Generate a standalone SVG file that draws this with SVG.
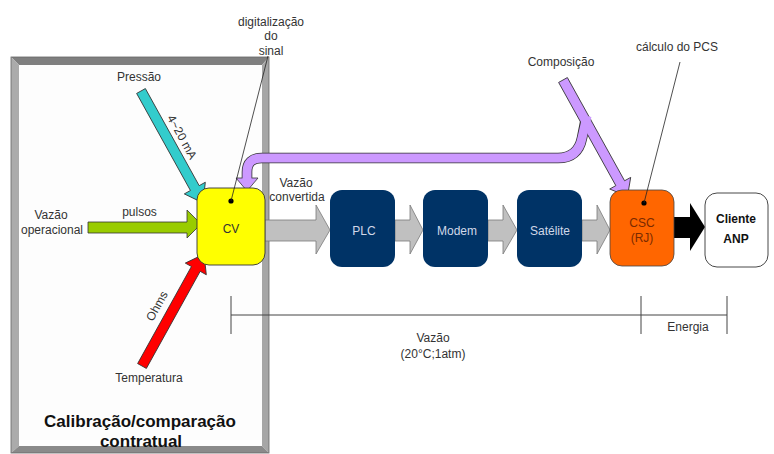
<svg xmlns="http://www.w3.org/2000/svg" width="774" height="454" viewBox="0 0 774 454">
<defs>
<style>
text{font-family:"Liberation Sans",Arial,sans-serif;font-size:12px;fill:#333;}
.c{text-anchor:middle;}
.navy{fill:#003366;}
.bt{fill:#d0d8e8;text-anchor:middle;}
.garrow{fill:#c0c0c0;stroke:#7a7a7a;stroke-width:0.8;}
.out{stroke:#333;stroke-width:0.8;}
.dim{stroke:#444;stroke-width:1;fill:none;}
.lead{stroke:#222;stroke-width:0.8;fill:none;}
</style>
</defs>
<rect width="774" height="454" fill="#ffffff"/>

<g id="frame">
<polygon points="11,57 269,57 262,65 19,65" fill="#7f7f7f"/>
<polygon points="11,57 19,65 19,446 11,453" fill="#ababab"/>
<polygon points="269,57 269,453 262,446 262,65" fill="#a6a6a6"/>
<polygon points="11,453 19,446 262,446 269,453" fill="#8a8a8a"/>
<rect x="19" y="65" width="243" height="381" fill="#fdfdfd"/>
<rect x="11" y="57" width="258" height="396" fill="none" stroke="#666" stroke-width="0.8"/>
<text x="140" y="427" style="font-size:17px;font-weight:bold;fill:#111" class="c">Calibração/comparação</text>
<text x="141" y="447" style="font-size:17px;font-weight:bold;fill:#111" class="c">contratual</text>
</g>

<g id="dimension">
<path class="dim" d="M231,315 H727 M231,296 V334 M641,296 V334 M727,296 V334"/>
<text x="433" y="342" class="c">Vazão</text>
<text x="433" y="358" class="c">(20°C;1atm)</text>
<text x="688" y="331" class="c">Energia</text>
</g>

<g id="connectors">
<path class="garrow" d="M265,220 H316 V205 L330,230 L316,254 V241 H265 Z"/>
<path class="garrow" d="M395,220 H410 V205 L423,230 L410,254 V241 H395 Z"/>
<path class="garrow" d="M488,220 H503 V205 L517,230 L503,254 V241 H488 Z"/>
<path class="garrow" d="M582,220 H597 V205 L610,230 L597,254 V241 H582 Z"/>
<path d="M674,217 H690 V203 L705,227 L690,251 V238 H674 Z" fill="#000"/>
<path class="out" fill="#99cc00" d="M88,222 H187 V210 L201,224 L187,238 V233 H88 Z"/>
<path class="out" fill="#33cccc" transform="translate(141,91) rotate(61)" d="M0,-5 H111 V-12 L128,0 L111,12 V5 H0 Z"/>
<path class="out" fill="#ff0000" transform="translate(142,366) rotate(-61)" d="M0,-5 H111 V-12 L128,0 L111,12 V5 H0 Z"/>
<path d="M586,118 L582,138 Q578,158 558,158 L262,158 Q247,158 247,172 L247,178" fill="none" stroke="#333" stroke-width="10.6"/>
<path class="out" fill="#cc99ff" transform="translate(563,80) rotate(61)" d="M0,-5 H118 V-12 L133,0 L118,12 V5 H0 Z"/>
<polygon class="out" fill="#cc99ff" points="236,178 258,178 247,191"/>
<path d="M587,116 L582,138 Q578,158 558,158 L262,158 Q247,158 247,172 L247,179.5" fill="none" stroke="#cc99ff" stroke-width="9"/>
<text x="139" y="81" class="c">Pressão</text>
<text transform="translate(178.5,139) rotate(61)" class="c">4~20 mA</text>
<text x="139.5" y="216" class="c">pulsos</text>
<text x="51" y="219" class="c">Vazão</text>
<text x="52" y="234" class="c">operacional</text>
<text transform="translate(160.5,308) rotate(-61)" class="c">Ohms</text>
<text x="149" y="382" class="c">Temperatura</text>
<text x="296" y="187" class="c">Vazão</text>
<text x="297" y="201" class="c">convertida</text>
<text x="561" y="66" class="c">Composição</text>
</g>

<g id="cv">
<rect x="197" y="188" width="68" height="77" rx="12" fill="#ffff00" stroke="#333" stroke-width="0.9"/>
<text x="231" y="233" class="c">CV</text>
<circle cx="231" cy="201" r="2.6" fill="#000"/>
<line class="lead" x1="231" y1="201" x2="268" y2="56"/>
<text x="271" y="26" class="c">digitalização</text>
<text x="271" y="40" class="c">do</text>
<text x="271" y="55" class="c">sinal</text>
</g>

<g id="plc">
<rect class="navy" x="330" y="190" width="65" height="77" rx="12"/>
<text x="364" y="235" class="bt">PLC</text>
</g>
<g id="modem">
<rect class="navy" x="423" y="190" width="65" height="77" rx="12"/>
<text x="457" y="235" class="bt">Modem</text>
</g>
<g id="satelite">
<rect class="navy" x="517" y="190" width="65" height="77" rx="12"/>
<text x="550" y="235" class="bt">Satélite</text>
</g>

<g id="csc">
<rect x="610" y="190" width="64" height="76" rx="12" fill="#ff6600" stroke="#444" stroke-width="0.8"/>
<text x="642" y="227" class="c" style="fill:#7a2a00">CSC</text>
<text x="642" y="242" class="c" style="fill:#7a2a00">(RJ)</text>
<circle cx="644" cy="203" r="2.6" fill="#000"/>
<line class="lead" x1="644" y1="203" x2="680" y2="62"/>
<text x="677" y="51" class="c">cálculo do PCS</text>
</g>

<g id="cliente">
<rect x="705" y="193" width="63" height="74" rx="12" fill="#fff" stroke="#333" stroke-width="0.9"/>
<text x="736" y="223" class="c" style="font-weight:bold;fill:#111">Cliente</text>
<text x="736" y="243" class="c" style="font-weight:bold;fill:#111">ANP</text>
</g>
</svg>
